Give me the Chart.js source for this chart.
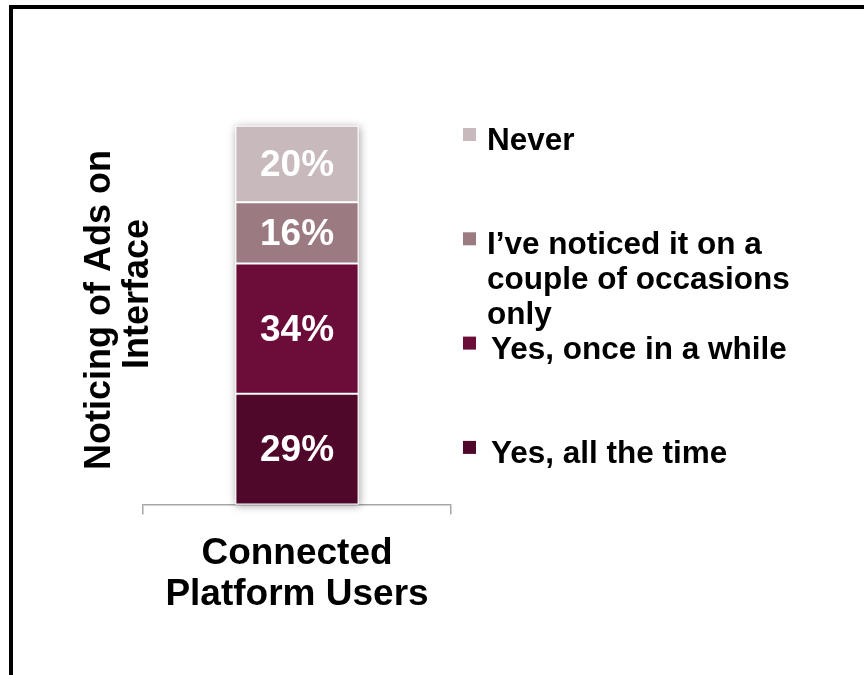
<!DOCTYPE html>
<html>
<head>
<meta charset="utf-8">
<title>Noticing of Ads on Interface</title>
<script src="https://cdn.jsdelivr.net/npm/chart.js@4"></script>
<style>
    html, body { margin: 0; padding: 0; background: #fff; overflow: hidden; }
    .frame {
        position: absolute; left: 9px; top: 5px;
        width: 1000px; height: 1000px;
        border-top: 4px solid #000; border-left: 4px solid #000;
    }
    .wrap { position: absolute; left: 0; top: 0; width: 864px; height: 675px; }
</style>
</head>
<body>
<div class="frame"></div>
<div class="wrap"><canvas id="chartAds" width="864" height="675"></canvas></div>
<script>
// Survey data: one stacked column, segments bottom to top
const categories = [['Connected', 'Platform Users']];
const seriesNames = [
    'Yes, all the time',
    'Yes, once in a while',
    'I\u2019ve noticed it on a couple of occasions only',
    'Never'
];
const seriesValues = [29, 34, 16, 20];
const seriesColors = ['#4F0829', '#6B0C39', '#9B7B81', '#C8BABC'];
const yTitleLines = ['Noticing of Ads on', 'Interface'];

const FONT = '"Liberation Sans", Arial, sans-serif';

// soft shadow behind the whole column
const columnShadow = {
    id: 'columnShadow',
    beforeDatasetsDraw(chart) {
        const first = chart.getDatasetMeta(0).data[0];
        const last = chart.getDatasetMeta(chart.data.datasets.length - 1).data[0];
        if (!first || !last) return;
        const ctx = chart.ctx;
        ctx.save();
        ctx.shadowColor = 'rgba(0, 0, 0, 0.35)';
        ctx.shadowBlur = 8;
        ctx.shadowOffsetX = 1;
        ctx.shadowOffsetY = 1;
        ctx.fillStyle = '#fff';
        ctx.fillRect(first.x - first.width / 2, last.y, first.width, first.base - last.y);
        ctx.restore();
    }
};

// percentage labels inside each segment
const segmentLabels = {
    id: 'segmentLabels',
    afterDatasetsDraw(chart) {
        const ctx = chart.ctx;
        ctx.save();
        ctx.fillStyle = '#fff';
        ctx.font = 'bold 37px ' + FONT;
        ctx.textAlign = 'center';
        ctx.textBaseline = 'middle';
        chart.data.datasets.forEach((ds, i) => {
            chart.getDatasetMeta(i).data.forEach((el, j) => {
                ctx.fillText(ds.data[j] + '%', el.x, (el.y + el.base) / 2 + 2);
            });
        });
        ctx.restore();
    }
};

// rotated axis title left of the column
const yTitle = {
    id: 'yTitle',
    afterDraw(chart) {
        const ctx = chart.ctx;
        const area = chart.chartArea;
        ctx.save();
        ctx.fillStyle = '#000';
        ctx.font = 'bold 36px ' + FONT;
        ctx.textAlign = 'center';
        ctx.textBaseline = 'alphabetic';
        const baseX = area.left - 33;
        const centers = [area.top + 188, area.top + 172];
        yTitleLines.forEach((line, i) => {
            ctx.save();
            ctx.translate(baseX + i * 38, centers[i]);
            ctx.rotate(-Math.PI / 2);
            ctx.fillText(line, 0, 0);
            ctx.restore();
        });
        ctx.restore();
    }
};

function wrapText(ctx, text, maxWidth) {
    const words = text.split(' ');
    const lines = [];
    let line = '';
    words.forEach(w => {
        const test = line ? line + ' ' + w : w;
        if (ctx.measureText(test).width > maxWidth && line) {
            lines.push(line);
            line = w;
        } else {
            line = test;
        }
    });
    if (line) lines.push(line);
    return lines;
}

// legend on the right, top entry = top segment
const sideLegend = {
    id: 'sideLegend',
    afterDraw(chart) {
        const ctx = chart.ctx;
        const area = chart.chartArea;
        const boxX = area.right + 12;
        const textX = area.right + 36;
        const firstBaseline = area.top + 28;
        const rowStep = 104.3;
        ctx.save();
        ctx.font = 'bold 31.5px ' + FONT;
        ctx.textAlign = 'left';
        ctx.textBaseline = 'alphabetic';
        const order = seriesNames.map((n, i) => i).reverse();
        order.forEach((idx, row) => {
            const baseline = firstBaseline + row * rowStep;
            // the two lower entries sit a little further right
            const indent = row >= 2 ? 4 : 0;
            ctx.fillStyle = seriesColors[idx];
            ctx.fillRect(boxX, baseline - 22, 13, 13);
            ctx.fillStyle = '#000';
            wrapText(ctx, seriesNames[idx], 320).forEach((ln, k) => {
                ctx.fillText(ln, textX + indent, baseline + k * 35);
            });
        });
        ctx.restore();
    }
};

const datasets = seriesNames.map((name, i) => ({
    label: name,
    data: [seriesValues[i]],
    backgroundColor: seriesColors[i],
    borderColor: '#fff',
    borderWidth: 1,
    borderSkipped: false,
    barPercentage: 0.4,
    categoryPercentage: 1
}));

new Chart(document.getElementById('chartAds'), {
    type: 'bar',
    data: { labels: categories, datasets: datasets },
    options: {
        responsive: false,
        animation: false,
        layout: { padding: { left: 143, right: 413, top: 122, bottom: 41 } },
        plugins: {
            legend: { display: false },
            tooltip: { enabled: false }
        },
        scales: {
            x: {
                stacked: true,
                offset: true,
                grid: {
                    offset: true,
                    drawOnChartArea: false,
                    drawTicks: true,
                    tickLength: 10,
                    color: '#A6A6A6',
                    lineWidth: 1.5
                },
                border: { display: true, color: '#A6A6A6', width: 1.5 },
                ticks: {
                    color: '#000',
                    padding: 19,
                    font: { family: FONT, size: 37, weight: 'bold', lineHeight: 1.1 }
                }
            },
            y: {
                stacked: true,
                display: false,
                min: 0,
                max: 100
            }
        }
    },
    plugins: [columnShadow, segmentLabels, yTitle, sideLegend]
});
</script>
</body>
</html>
